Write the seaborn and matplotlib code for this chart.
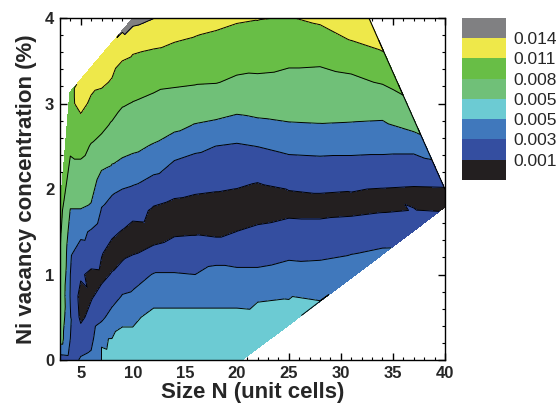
import numpy as np
import pandas as pd
import matplotlib
matplotlib.use('Agg')
import matplotlib.pyplot as plt
import matplotlib.tri as mtri
from matplotlib.ticker import MultipleLocator
import seaborn as sns

sns.set_style('ticks')
plt.rcParams['font.family'] = ['Liberation Sans', 'DejaVu Sans']

# grid columns (size N) and rows (vacancy concentration, %)
size_n = [3, 4, 5, 6, 7, 8, 9, 10, 12, 14, 16, 18, 20, 22, 25, 28, 31, 34, 37]
conc_rows = [0, 0.25, 0.5, 0.75, 1.0, 1.25, 1.5, 1.75, 2.0,
             2.25, 2.5, 2.75, 3.0, 3.25, 3.5, 3.75, 4.0]
N_ = None

# values, one list per size column (bottom -> top)
vac_value = [
    [0.0020, 0.0060, 0.0066, 0.0070, 0.0076, 0.0081, 0.0085, 0.0090,
     N_, N_, N_, N_, N_, N_, N_, N_, N_],
    [0.0022, 0.0030, 0.0031, 0.0029, 0.0030, 0.0032, 0.0040, 0.0049,
     0.0062, 0.0074, 0.0085, 0.0095, 0.0105, N_, N_, N_, N_],
    [0.0032, 0.0020, 0.0006, 0.0003, 0.0013, 0.0023, 0.0034, 0.0049,
     0.0062, 0.0074, 0.0089, 0.0102, 0.0117, 0.0117, N_, N_, N_],
    [0.0035, 0.0024, 0.0016, 0.0008, 0.0005, 0.0024, 0.0028, 0.0046,
     0.0057, 0.0068, 0.0078, 0.0092, 0.0106, 0.0116, N_, N_, N_],
    [0.005015, 0.00499, 0.0025, 0.0015, 0.0006, 0.0011, 0.0020, 0.0029,
     0.0036, 0.0052, 0.0070, 0.0087, 0.0100, 0.0114, 0.0120, N_, N_],
    [0.00501, 0.005005, 0.0039, 0.0020, 0.0011, 0.0004, 0.0013, 0.0023,
     0.0033, 0.0048, 0.0060, 0.0077, 0.0093, 0.0108, 0.0118, N_, N_],
    [0.00501, 0.005012, 0.00499, 0.0031, 0.0017, 0.0006, 0.0009, 0.0019,
     0.0030, 0.0043, 0.0058, 0.0070, 0.0082, 0.0095, 0.0110, 0.0137, N_],
    [0.00501, 0.005012, 0.00499, 0.0033, 0.0022, 0.0009, 0.0004, 0.0016,
     0.0028, 0.0040, 0.0055, 0.0068, 0.0079, 0.0090, 0.0104, 0.0124, 0.0150],
    [0.00501, 0.00501, 0.005015, 0.00498, 0.0031, 0.0013, 0.0005, 0.0008,
     0.0018, 0.0036, 0.0048, 0.0062, 0.0074, 0.0086, 0.0100, 0.0118, 0.01405],
    [0.00501, 0.00501, 0.005015, 0.00498, 0.0031, 0.0020, 0.0007, 0.0005,
     0.0014, 0.0026, 0.0038, 0.0056, 0.0068, 0.0084, 0.0097, 0.0112, 0.0128],
    [0.00501, 0.00501, 0.005015, 0.00498, 0.0030, 0.0020, 0.0008, 0.0004,
     0.0012, 0.0022, 0.0034, 0.0049, 0.0066, 0.0082, 0.0094, 0.0108, 0.0122],
    [0.00501, 0.00501, 0.005015, 0.00498, 0.0036, 0.0022, 0.0006, 0.0003,
     0.0011, 0.0020, 0.00298, 0.0046, 0.0062, 0.0081, 0.0092, 0.0105, 0.0117],
    [0.00501, 0.00501, 0.005015, 0.00498, 0.0034, 0.0022, 0.00102, 0.0003,
     0.00098, 0.0019, 0.0028, 0.0042, 0.0058, 0.0076, 0.0088, 0.0101, 0.0113],
    [N_, 0.00501, 0.005012, 0.004995, 0.0034, 0.0022, 0.0013, 0.0004,
     0.0007, 0.0017, 0.00302, 0.0045, 0.0060, 0.0074, 0.0089, 0.0102, 0.0111],
    [N_, N_, 0.00501, 0.004998, 0.0040, 0.0025, 0.0017, 0.0006,
     0.00103, 0.0022, 0.0035, 0.0048, 0.0062, 0.0072, 0.0084, 0.0097, 0.0109],
    [N_, N_, N_, N_, 0.0038, 0.0026, 0.0016, 0.0006,
     0.0011, 0.0023, 0.0036, 0.0049, 0.0062, 0.0072, 0.0083, 0.0101, 0.0114],
    [N_, N_, N_, N_, N_, 0.0029, 0.0018, 0.0007,
     0.00105, 0.0022, 0.0036, 0.0048, 0.0063, 0.0075, 0.0088, 0.0111, 0.0124],
    [N_, N_, N_, N_, N_, N_, 0.0019, 0.0009,
     0.00095, 0.0022, 0.0035, 0.0047, 0.0061, 0.0082, 0.0102, N_, N_],
    [N_, N_, N_, N_, N_, N_, N_, 0.00102,
     0.00085, 0.0021, 0.0035, N_, N_, N_, N_, N_, N_],
]

# sampled points on the outer edge of the map
edge_n = [3.95, 20.5, 22, 25, 28, 31, 34, 37, 40, 40, 38.5, 37, 35.5, 34, 32.7]
edge_c = [3.13, 0, 0.14, 0.41, 0.69, 0.96, 1.24, 1.51, 1.79, 2.0,
          2.41, 2.82, 3.23, 3.64, 4.0]
edge_v = [0.0105, 0.00501, 0.00501, 0.00501, 0.005015, 0.00496, 0.0034,
          0.0019, 0.0008, 0.0009, 0.0034, 0.0063, 0.0088, 0.0112, 0.0125]

levels = [0.001, 0.003, 0.005, 0.00502, 0.008, 0.011, 0.014]
band_colors = ['#231f20', '#344ea0', '#4078bc', '#6ccbd3',
               '#70c078', '#68be46', '#eee84a', '#808082']

rows = []
for n, col in zip(size_n, vac_value):
    for c, v in zip(conc_rows, col):
        if v is not None:
            rows.append((n, c, v))
for n, c, v in zip(edge_n, edge_c, edge_v):
    rows.append((n, c, v))
df = pd.DataFrame(rows, columns=['N', 'conc', 'value'])

# triangulate in (roughly) screen-scaled coordinates
tri0 = mtri.Triangulation(df['N'] * 10.5, df['conc'] * 85.5)
tri = mtri.Triangulation(df['N'], df['conc'], tri0.triangles)

fig = plt.figure(figsize=(5.6, 4.08), dpi=100)
ax = fig.add_axes([0.107, 0.1176, 0.6875, 0.838])
cs = ax.tricontourf(tri, df['value'], levels=levels, colors=band_colors,
                    extend='both')
line_levels = [l for l in levels if l != 0.00502]
ax.tricontour(tri, df['value'], levels=line_levels, colors='black',
              linewidths=0.7)
# outline of the upper right edge
ax.plot(edge_n[9:], edge_c[9:], color='black', lw=0.8)

ax.set_xlim(3, 40)
ax.set_ylim(0, 4)
ax.xaxis.set_major_locator(MultipleLocator(5))
ax.xaxis.set_minor_locator(MultipleLocator(1))
ax.yaxis.set_major_locator(MultipleLocator(1))
ax.yaxis.set_minor_locator(MultipleLocator(0.2))
ax.tick_params(which='both', direction='in', top=True, right=True,
               color='black')
ax.tick_params(which='major', length=5, width=1, labelsize=12, pad=4)
ax.tick_params(which='minor', length=2.5, width=0.8)
for lab in ax.get_xticklabels() + ax.get_yticklabels():
    lab.set_fontweight('bold')
for sp in ax.spines.values():
    sp.set_color('black')
    sp.set_linewidth(1)
ax.set_xlabel('Size N (unit cells)', fontsize=16, fontweight='bold',
              labelpad=1)
ax.set_ylabel('Ni vacancy concentration (%)', fontsize=16,
              fontweight='bold', labelpad=6)

cax = fig.add_axes([0.825, 0.559, 0.0786, 0.397])
cb = fig.colorbar(cs, cax=cax, ticks=levels, format='%.3f',
                  extendrect=True, extendfrac='auto', spacing='uniform')
cb.outline.set_visible(False)
cax.tick_params(length=0, labelsize=12.5, pad=5)

fig.savefig('out.png', dpi=100)
